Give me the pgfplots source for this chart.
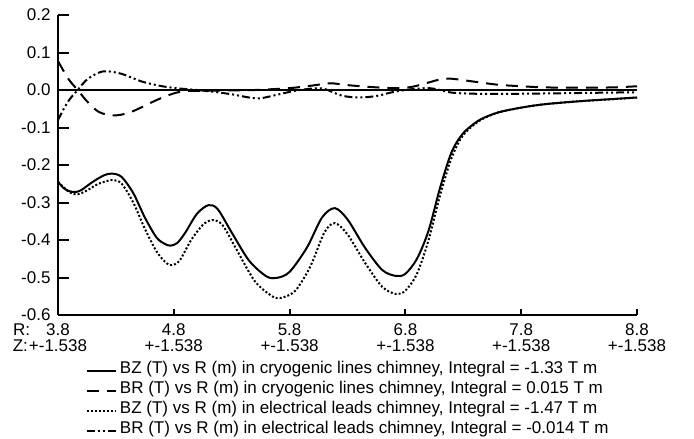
\documentclass[border=0pt]{standalone}
\usepackage{fontspec}
\setmainfont{Liberation Sans}
\usepackage{pgfplots}
\pgfplotsset{compat=1.18}
\usetikzlibrary{calc}
\newcommand{\lab}{\fontsize{17bp}{16.5bp}\selectfont}
\begin{document}
\begin{tikzpicture}
\begin{axis}[name=ax, scale only axis, width=579bp, height=300bp,
  xmin=3.8, xmax=8.8, ymin=-0.6, ymax=0.2,
  axis x line=bottom, axis y line=left,
  axis line style={-, line width=2bp},
  tick align=inside, tick style={black, line width=2bp},
  xtick style={/pgfplots/major tick length=6bp},
  ytick style={/pgfplots/major tick length=11bp},
  xtick={3.8,4.8,5.8,6.8,7.8,8.8},
  xticklabels={{\llap{R:\hspace{16bp}}3.8\\\llap{Z:\hspace{1bp}}+-1.538},
    {4.8\\+-1.538},{5.8\\+-1.538},{6.8\\+-1.538},{7.8\\+-1.538},{8.8\\+-1.538}},
  x tick label style={align=center, font=\lab, yshift=-5bp},
  ytick={-0.6,-0.5,-0.4,-0.3,-0.2,-0.1,0,0.1,0.2},
  yticklabels={-0.6,-0.5,-0.4,-0.3,-0.2,-0.1,0.0,0.1,0.2},
  y tick label style={font=\lab, xshift=-4bp},
  legend cell align=left,
  legend style={at={(rel axis cs:0.048,-0.145)}, anchor=north west,
    draw=none, fill=none, inner sep=0pt, row sep=0pt, column sep=3bp,
    font=\fontsize{17bp}{18bp}\selectfont,
    nodes={inner sep=0pt, text height=14.5bp, text depth=5.5bp}},
  legend image code/.code={\draw[#1] (0bp,-2bp) -- (29bp,-2bp);},
  every axis plot/.append style={black, line width=2bp, line cap=butt},
]
% zero reference line
\draw[line width=1.5bp] (axis cs:3.8,0) -- (axis cs:8.8,0);

\addplot[solid, smooth, tension=0.5] coordinates {
(3.8,-0.245) (3.85,-0.262) (3.9,-0.27) (3.95,-0.272) (4.0,-0.267)
(4.1,-0.245) (4.2,-0.227) (4.27,-0.223) (4.35,-0.232) (4.45,-0.275)
(4.55,-0.34) (4.65,-0.393) (4.72,-0.41) (4.77,-0.415) (4.83,-0.408)
(4.9,-0.38) (5.0,-0.33) (5.1,-0.307) (5.18,-0.318) (5.3,-0.38)
(5.45,-0.455) (5.6,-0.497) (5.69,-0.501) (5.8,-0.485) (5.95,-0.42)
(6.08,-0.34) (6.19,-0.315) (6.3,-0.345) (6.45,-0.42) (6.6,-0.48)
(6.72,-0.496) (6.8,-0.49) (6.9,-0.45) (7.0,-0.375) (7.1,-0.26)
(7.2,-0.165) (7.3,-0.115) (7.44,-0.08) (7.6,-0.06) (7.8,-0.047)
(8.0,-0.038) (8.3,-0.03) (8.6,-0.024) (8.8,-0.02)};
\addlegendentry{BZ (T) vs R (m) in cryogenic lines chimney, Integral = -1.33 T m}

\addplot[dash pattern=on 12bp off 8bp, smooth, tension=0.5] coordinates {
(3.8,0.077) (3.85,0.05) (3.9,0.025) (3.97,0.0) (4.05,-0.03)
(4.15,-0.058) (4.27,-0.068) (4.4,-0.062) (4.53,-0.045) (4.65,-0.027)
(4.79,-0.01) (4.9,-0.003) (5.1,-0.002) (5.3,-0.001) (5.5,0.0)
(5.8,0.005) (6.0,0.012) (6.15,0.018) (6.3,0.013) (6.5,0.008)
(6.7,0.005) (6.85,0.008) (7.0,0.02) (7.1,0.028) (7.2,0.03)
(7.4,0.022) (7.6,0.014) (7.8,0.01) (8.0,0.007) (8.3,0.006)
(8.6,0.007) (8.8,0.01)};
\addlegendentry{BR (T) vs R (m) in cryogenic lines chimney, Integral = 0.015 T m}

\addplot[dash pattern=on 2bp off 2bp, smooth, tension=0.5] coordinates {
(3.8,-0.245) (3.9,-0.273) (3.97,-0.278) (4.05,-0.268) (4.15,-0.25)
(4.27,-0.24) (4.35,-0.25) (4.45,-0.3) (4.55,-0.37) (4.65,-0.43)
(4.73,-0.46) (4.78,-0.467) (4.85,-0.455) (4.95,-0.4) (5.05,-0.36)
(5.13,-0.347) (5.22,-0.36) (5.35,-0.43) (5.5,-0.51) (5.65,-0.55)
(5.73,-0.554) (5.85,-0.535) (5.98,-0.47) (6.1,-0.38) (6.19,-0.355)
(6.3,-0.385) (6.45,-0.46) (6.6,-0.525) (6.72,-0.544) (6.8,-0.535)
(6.9,-0.49) (7.0,-0.4) (7.1,-0.28) (7.2,-0.18) (7.3,-0.12)
(7.44,-0.082) (7.6,-0.06) (7.8,-0.047) (8.0,-0.038) (8.3,-0.03)
(8.6,-0.024) (8.8,-0.02)};
\addlegendentry{BZ (T) vs R (m) in electrical leads chimney, Integral = -1.47 T m}

\addplot[dash pattern=on 8bp off 3bp on 2bp off 3bp on 2bp off 3bp, smooth, tension=0.5] coordinates {
(3.8,-0.08) (3.85,-0.05) (3.9,-0.025) (3.97,0.0) (4.05,0.028)
(4.15,0.046) (4.22,0.05) (4.35,0.043) (4.53,0.022) (4.7,0.01)
(4.85,0.004) (5.0,0.0) (5.15,-0.005) (5.31,-0.012) (5.45,-0.02)
(5.55,-0.022) (5.7,-0.012) (5.85,-0.002) (6.0,0.004) (6.1,0.003)
(6.25,-0.015) (6.4,-0.02) (6.55,-0.016) (6.7,-0.005) (6.85,0.002)
(7.0,0.005) (7.1,0.0) (7.2,-0.007) (7.4,-0.01) (7.8,-0.01)
(8.3,-0.008) (8.8,-0.006)};
\addlegendentry{BR (T) vs R (m) in electrical leads chimney, Integral = -0.014 T m}
\end{axis}
\pgfresetboundingbox
\path[use as bounding box] ($(ax.south west)+(-58bp,-124bp)$) rectangle ($(ax.north east)+(57bp,15bp)$);
\end{tikzpicture}
\end{document}
